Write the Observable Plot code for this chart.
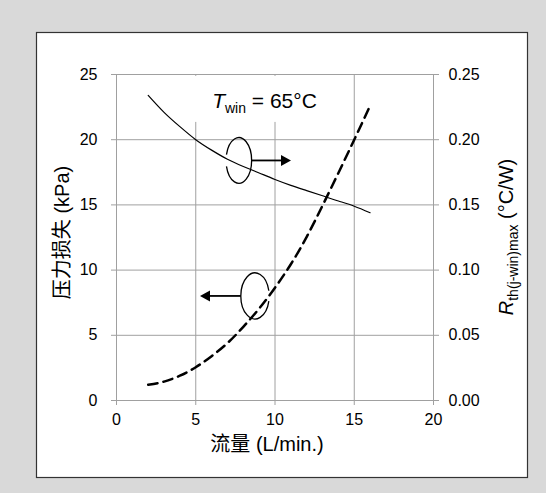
<!DOCTYPE html>
<html><head><meta charset="utf-8">
<script src="https://cdn.jsdelivr.net/npm/d3@7"></script>
<script src="https://cdn.jsdelivr.net/npm/@observablehq/plot@0.6"></script>
<style>
html,body{margin:0;padding:0;background:#d9d9d9;}
</style></head><body><div id="chart"></div>
<script>
// ---- data ----
const flow = [2, 3, 4, 5, 6, 7, 8, 9, 10, 11, 12, 13, 14, 15, 16];
const pressureKPa = [1.2, 1.45, 1.9, 2.55, 3.4, 4.4, 5.65, 7.05, 8.65, 10.45, 12.55, 14.95, 17.45, 20.0, 22.6];
const rthCW = [0.234, 0.221, 0.210, 0.200, 0.192, 0.185, 0.1795, 0.1745, 0.1695, 0.165, 0.161, 0.157, 0.153, 0.149, 0.144];
const xTicks = [0, 5, 10, 15, 20];
const yTicksLeft = [0, 5, 10, 15, 20, 25];
const yTickLabelsRight = ["0.00", "0.05", "0.10", "0.15", "0.20", "0.25"];
const xTitle = "流量 (L/min.)";
const yTitleLeft = "压力损失 (kPa)";
const yTitleRight = {main: "R", sub: "th(j-win)max", rest: " (°C/W)"};
const condition = {main: "T", sub: "win", rest: " = 65°C"};
const rthToLeft = 100; // right axis 0.00–0.25 corresponds to left 0–25

// annotation anchors (data units)
const labelAt = {x: 9.37, y: 22.4};
const loopRight = {x: 7.75, y: 18.37, tipX: 11.04};   // points to right axis (Rth)
const loopLeft = {x: 8.77, y: 7.98, tipX: 5.3};       // points to left axis (pressure)

const pressureData = flow.map((f, i) => ({flow: f, value: pressureKPa[i]}));
const rthData = flow.map((f, i) => ({flow: f, value: rthCW[i] * rthToLeft}));

const FONT = "'Liberation Sans', Arial, 'Noto Sans CJK SC', sans-serif";
const GRID = "#a0a0a0";

function panel() {
  const g = d3.create("svg:g");
  g.append("rect").attr("x", 36.5).attr("y", 32.5).attr("width", 491).attr("height", 445)
    .attr("fill", "#fff").attr("stroke", "#333").attr("stroke-width", 1.2);
  return g.node();
}

function labelBox(index, {x, y}) {
  const g = d3.create("svg:g");
  const lx = x(labelAt.x), ly = y(labelAt.y);
  g.append("rect").attr("x", lx - 80).attr("y", ly - 32).attr("width", 160).attr("height", 46).attr("fill", "#fff");
  const t = g.append("text").attr("x", lx).attr("y", ly).attr("text-anchor", "middle")
    .attr("font-size", 21).attr("fill", "#000");
  t.append("tspan").attr("font-style", "italic").text(condition.main);
  t.append("tspan").attr("font-size", 14).attr("dy", 5).text(condition.sub);
  t.append("tspan").attr("dy", -5).text(condition.rest);
  return g.node();
}

function loop(g, cx, cy, rx, ry, gapCenterDeg, gapHalfDeg) {
  const a0 = (gapCenterDeg + gapHalfDeg) * Math.PI / 180;
  const a1 = (gapCenterDeg - gapHalfDeg + 360) * Math.PI / 180;
  const p = a => [cx + rx * Math.cos(a), cy + ry * Math.sin(a)];
  const [x0, y0] = p(a0), [x1, y1] = p(a1);
  g.append("path").attr("d", `M${x0},${y0}A${rx},${ry} 0 1 1 ${x1},${y1}`)
    .attr("fill", "none").attr("stroke", "#000").attr("stroke-width", 1.3);
}
function arrow(g, xs, xt, yy) {
  const dir = Math.sign(xt - xs);
  const base = xt - dir * 10;
  g.append("line").attr("x1", xs).attr("x2", base).attr("y1", yy).attr("y2", yy)
    .attr("stroke", "#000").attr("stroke-width", 1.8);
  g.append("path").attr("d", `M${xt},${yy}L${base},${yy - 5.5}L${base},${yy + 5.5}Z`).attr("fill", "#000");
}
function loops(index, {x, y}) {
  const g = d3.create("svg:g");
  const c1x = x(loopRight.x), c1y = y(loopRight.y);
  loop(g, c1x, c1y, 12.8, 22.8, 180, 15);
  arrow(g, c1x + 12.8, x(loopRight.tipX), c1y);
  const c2x = x(loopLeft.x), c2y = y(loopLeft.y);
  loop(g, c2x, c2y, 14.2, 23, 0, 13);
  arrow(g, c2x - 14.2, x(loopLeft.tipX), c2y);
  return g.node();
}

function rightTitle(index, scales, values, {height, marginTop, marginBottom}) {
  const cy = marginTop + (height - marginTop - marginBottom) / 2;
  const g = d3.create("svg:g");
  const t = g.append("text").attr("transform", `translate(513,${cy}) rotate(-90)`)
    .attr("text-anchor", "middle").attr("font-size", 20).attr("fill", "#000");
  t.append("tspan").attr("font-style", "italic").text(yTitleRight.main);
  t.append("tspan").attr("font-size", 14).attr("dy", 5).text(yTitleRight.sub);
  t.append("tspan").attr("dy", -5).text(yTitleRight.rest);
  return g.node();
}

const chart = Plot.plot({
  width: 546, height: 493,
  marginLeft: 116, marginRight: 113, marginTop: 74, marginBottom: 93,
  style: {fontFamily: FONT, fontSize: "16px", background: "#d9d9d9", color: "#000", overflow: "visible"},
  x: {domain: [0, 20]},
  y: {domain: [0, 25]},
  marks: [
    panel,
    Plot.ruleX(xTicks, {stroke: GRID, strokeWidth: 1}),
    Plot.ruleY(yTicksLeft, {stroke: GRID, strokeWidth: 1}),
    Plot.axisX(xTicks, {tickSize: 5, tickPadding: 8, stroke: GRID, fill: "#000", label: null, fontSize: 16}),
    Plot.axisY(yTicksLeft, {anchor: "left", tickSize: 5, tickPadding: 14, stroke: GRID, fill: "#000", label: null, fontSize: 16}),
    Plot.axisY(yTicksLeft, {anchor: "right", tickSize: 5, tickPadding: 10, stroke: GRID, fill: "#000", label: null, fontSize: 16,
      tickFormat: d => yTickLabelsRight[yTicksLeft.indexOf(d)]}),
    labelBox,
    Plot.line(pressureData, {x: "flow", y: "value", stroke: "#000", strokeWidth: 2.5, strokeDasharray: "9.5,6", curve: "natural"}),
    Plot.line(rthData, {x: "flow", y: "value", stroke: "#000", strokeWidth: 1.2, curve: "natural"}),
    loops,
    Plot.text([xTitle], {frameAnchor: "bottom", textAnchor: "middle", lineAnchor: "middle", dx: -8, dy: 43.6, fontSize: 20, fill: "#000"}),
    Plot.text([yTitleLeft], {frameAnchor: "left", textAnchor: "middle", lineAnchor: "middle", rotate: -90, dx: -53.5, dy: -5, fontSize: 20, fill: "#000"}),
    rightTitle
  ]
});
document.getElementById("chart").appendChild(chart);
</script>
</body></html>
